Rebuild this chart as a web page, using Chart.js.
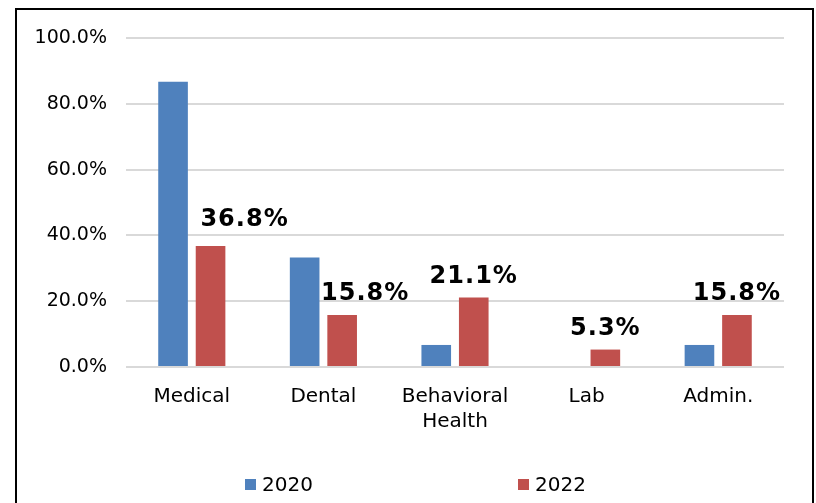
<!DOCTYPE html>
<html>
<head>
<meta charset="utf-8">
<script src="https://cdn.jsdelivr.net/npm/chart.js@4"></script>
<style>
  html, body { margin: 0; padding: 0; background: #fff; }
  #wrap { position: relative; width: 816px; height: 503px; overflow: hidden; }
  #frame {
    position: absolute; left: 15px; top: 8px; width: 799px; height: 530px;
    box-sizing: border-box; border: 2px solid #000; pointer-events: none;
  }
  .leg {
    position: absolute; top: 472px; font: 20px 'DejaVu Sans', Verdana, sans-serif;
    color: #000; display: flex; align-items: center; white-space: nowrap;
  }
  .leg i { display: inline-block; width: 11px; height: 11px; margin-right: 6px; }
</style>
</head>
<body>
<div id="wrap">
  <canvas id="chart"></canvas>
  <div id="frame"></div>
</div>
<script>
// chart data
const categories = [['Medical'], ['Dental'], ['Behavioral', 'Health'], ['Lab'], ['Admin.']];
const seriesNames = ['2020', '2022'];
const values2020 = [86.7, 33.3, 6.7, 0, 6.7];
const values2022 = [36.8, 15.8, 21.1, 5.3, 15.8];
const yTicks = [0, 20, 40, 60, 80, 100];
const colors = ['#4F81BD', '#C0504D'];

const FONT = "'DejaVu Sans', Verdana, sans-serif";

// value labels for the 2022 bars (first two were nudged by hand in the original)
const labelPlugin = {
  id: 'valueLabels',
  afterDatasetsDraw(chart) {
    const ctx = chart.ctx;
    const meta = chart.getDatasetMeta(1);
    const nudgeX = [34, 23, 0, 0, 0];
    const nudgeY = [5, 0, 0, 0, 0];
    ctx.save();
    ctx.font = 'bold 24px ' + FONT;
    ctx.letterSpacing = '1px';
    ctx.fillStyle = '#000';
    ctx.textAlign = 'center';
    ctx.textBaseline = 'alphabetic';
    meta.data.forEach((bar, i) => {
      const txt = values2022[i].toFixed(1) + '%';
      ctx.fillText(txt, bar.x + nudgeX[i], bar.y - 15 - nudgeY[i]);
    });
    ctx.restore();
  }
};

const ctx = document.getElementById('chart').getContext('2d');
const chart = new Chart(ctx, {
  type: 'bar',
  data: {
    labels: categories,
    datasets: [
      { label: seriesNames[0], data: values2020, backgroundColor: colors[0] },
      { label: seriesNames[1], data: values2022, backgroundColor: colors[1] }
    ]
  },
  options: {
    responsive: true,
    maintainAspectRatio: false,
    animation: false,
    categoryPercentage: 0.57,
    barPercentage: 0.79,
    layout: { padding: { left: 0, right: 32, top: 38, bottom: 36 } },
    plugins: {
      legend: { display: false },
      tooltip: { enabled: false }
    },
    scales: {
      x: {
        grid: { display: false },
        border: { display: false },
        ticks: {
          color: '#000',
          font: { family: FONT, size: 20, lineHeight: 1.25 },
          padding: 9,
          maxRotation: 0,
          autoSkip: false
        },
        afterFit(scale) { scale.height = 100; }
      },
      y: {
        min: 0,
        max: 100,
        afterBuildTicks(scale) { scale.ticks = yTicks.map(v => ({ value: v })); },
        grid: { color: '#D9D9D9', lineWidth: 2, drawTicks: false },
        border: { display: false },
        ticks: {
          color: '#000',
          font: { family: FONT, size: 19 },
          padding: 19,
          callback: v => v.toFixed(1) + '%'
        },
        afterFit(scale) { scale.width = 126; }
      }
    }
  },
  plugins: [labelPlugin]
});

// legend below the plot
const legendLeft = [245, 518];
seriesNames.forEach((name, i) => {
  const el = document.createElement('div');
  el.className = 'leg';
  el.style.left = legendLeft[i] + 'px';
  el.innerHTML = '<i style="background:' + colors[i] + '"></i>' + name;
  document.getElementById('wrap').appendChild(el);
});
</script>
</body>
</html>
